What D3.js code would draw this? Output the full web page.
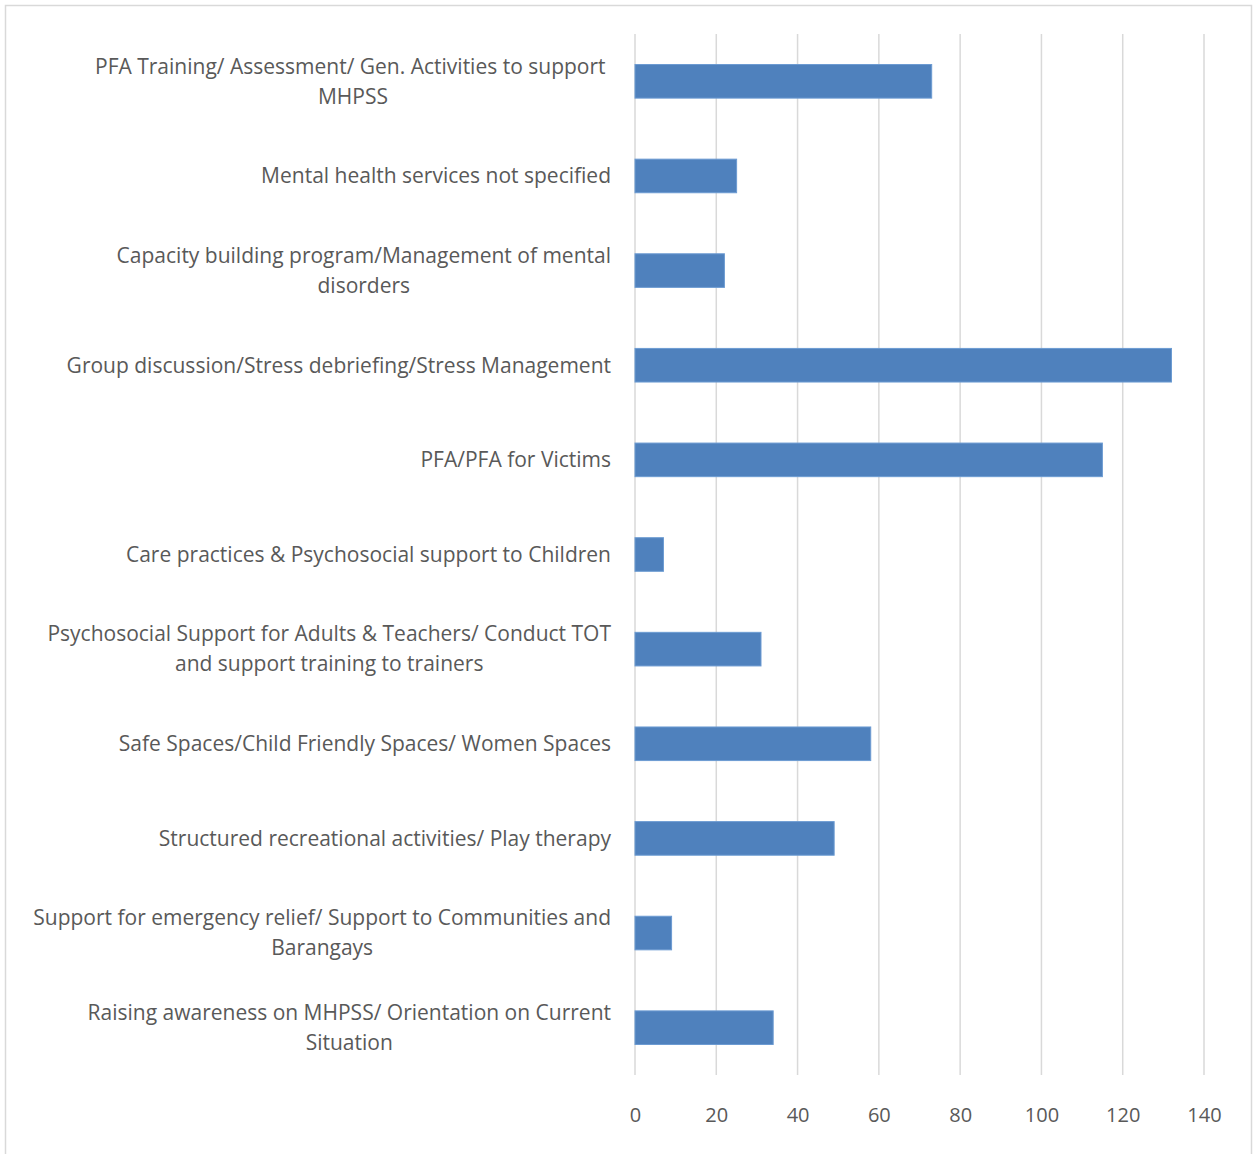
<!DOCTYPE html>
<html><head><meta charset="utf-8">
<script src="https://cdn.jsdelivr.net/npm/d3@7"></script>
<style>body{margin:0;background:#fff;} text{font-family:"Open Sans",sans-serif;fill:#595959;white-space:pre;}</style>
</head><body>
<svg id="chart" width="1253" height="1154"></svg>
<script>
const categories = [
  ["PFA Training/ Assessment/ Gen. Activities to support ", "MHPSS"],
  ["Mental health services not specified"],
  ["Capacity building program/Management of mental", "disorders"],
  ["Group discussion/Stress debriefing/Stress Management"],
  ["PFA/PFA for Victims"],
  ["Care practices & Psychosocial support to Children"],
  ["Psychosocial Support for Adults & Teachers/ Conduct TOT", "and support training to trainers"],
  ["Safe Spaces/Child Friendly Spaces/ Women Spaces"],
  ["Structured recreational activities/ Play therapy"],
  ["Support for emergency relief/ Support to Communities and", "Barangays"],
  ["Raising awareness on MHPSS/ Orientation on Current", "Situation"]
];
const values = [73, 25, 22, 132, 115, 7, 31, 58, 49, 9, 34];
const xTicks = [0, 20, 40, 60, 80, 100, 120, 140];

const svg = d3.select("#chart");
svg.append("rect").attr("x",5.5).attr("y",5.5).attr("width",1246).attr("height",1160)
  .attr("fill","none").attr("stroke","#d9d9d9").attr("stroke-width",1.5);

const x = d3.scaleLinear().domain([0,140]).range([635,1204]);
const y = d3.scaleBand().domain(d3.range(categories.length)).range([34,1075]).paddingInner(0.645).paddingOuter(0.3225);

// gridlines
svg.append("g").selectAll("line").data(xTicks).join("line")
  .attr("x1",d=>x(d)).attr("x2",d=>x(d)).attr("y1",34).attr("y2",1075)
  .attr("stroke","#d9d9d9").attr("stroke-width",1.5);

// bars
svg.append("g").selectAll("rect").data(values).join("rect")
  .attr("x",x(0)).attr("y",(d,i)=>y(i)).attr("width",d=>x(d)-x(0)).attr("height",y.bandwidth())
  .attr("fill","#4f81bd").attr("stroke","#6c9bd2").attr("stroke-width",1);

// x axis labels
const xAxis = d3.axisBottom(x).tickValues(xTicks).tickSize(0).tickPadding(0);
const gx = svg.append("g").attr("transform","translate(0,1115)").call(xAxis);
gx.select(".domain").remove();
gx.selectAll("text").style("font-size","20px").style("font-family","'Open Sans',sans-serif").attr("fill","#595959").attr("dy","0.35em").attr("y",0);

// category labels
const labG = svg.append("g");
categories.forEach((lines,i)=>{
  const cy = y(i)+y.bandwidth()/2;
  const g = labG.append("g");
  const n = lines.length;
  const texts = lines.map((l,j)=> g.append("text").text(l)
    .attr("y", cy + (j-(n-1)/2)*30).attr("dy","0.35em")
    .style("font-size","21px"));
  const widths = texts.map(t=>t.node().getComputedTextLength());
  const maxW = d3.max(widths);
  const right = 611;
  texts.forEach(t=>t.attr("x", right - maxW/2).attr("text-anchor","middle"));
});
</script>
</body></html>
